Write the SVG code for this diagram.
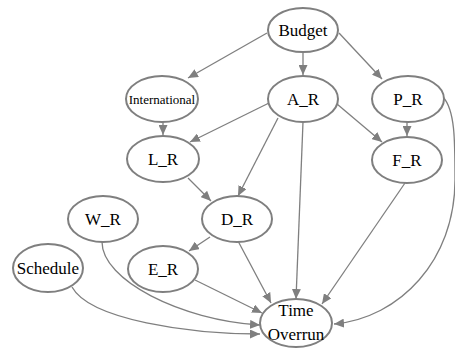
<svg xmlns="http://www.w3.org/2000/svg" width="455" height="349" viewBox="0 0 455 349">
<defs>
<style>
.node ellipse{fill:#fff;stroke:#7f7f7f;stroke-width:2}
.node text{font-family:'Liberation Serif','DejaVu Serif',serif;font-size:17px;fill:#000;text-anchor:middle}
.edges path{fill:none;stroke:#7f7f7f;stroke-width:1.3;marker-end:url(#arr)}
</style>
<marker id="arr" markerUnits="userSpaceOnUse" markerWidth="10" markerHeight="9" refX="10" refY="4.5" orient="auto">
<path d="M0,0 L10,4.5 L0,9 z" fill="#7f7f7f"/>
</marker>
</defs>
<rect width="455" height="349" fill="#fff"/>
<g id="edges" class="edges">
<path d="M267,33 L188,78"/>
<path d="M303,52 L303,75"/>
<path d="M339,33 L382,79"/>
<path d="M163,121 L163,135"/>
<path d="M269,103 L190,142"/>
<path d="M278,118 L238,196"/>
<path d="M303,122 L296,299"/>
<path d="M337,104 L382,142"/>
<path d="M407,122 L407,136"/>
<path d="M443,97 C455,110 455,140 455,180 C455,260 400,318 334,324"/>
<path d="M188,178 L211,201"/>
<path d="M210,237 L189,251"/>
<path d="M238,241 L271,303"/>
<path d="M102,242 C102,280 180,320 260,325"/>
<path d="M195,280 L262,313"/>
<path d="M72,287 C90,320 190,334 260,334"/>
<path d="M405,183 L322,304"/>
</g>
<g id="Budget" class="node"><ellipse cx="303" cy="30" rx="35" ry="22"/><text x="303" y="36" font-family="Liberation Serif, serif">Budget</text></g>
<g id="International" class="node"><ellipse cx="162" cy="99" rx="36" ry="23"/><text x="162" y="104" style="font-size:13px">International</text></g>
<g id="A_R" class="node"><ellipse cx="303" cy="99" rx="35" ry="23"/><text x="303" y="105">A_R</text></g>
<g id="P_R" class="node"><ellipse cx="408" cy="99" rx="36" ry="23"/><text x="408" y="105">P_R</text></g>
<g id="L_R" class="node"><ellipse cx="163" cy="159" rx="36" ry="23"/><text x="163" y="165">L_R</text></g>
<g id="F_R" class="node"><ellipse cx="407" cy="160" rx="35" ry="23"/><text x="407" y="166">F_R</text></g>
<g id="W_R" class="node"><ellipse cx="103" cy="219" rx="35" ry="23"/><text x="103" y="225">W_R</text></g>
<g id="D_R" class="node"><ellipse cx="237" cy="219" rx="35" ry="23"/><text x="237" y="225">D_R</text></g>
<g id="Schedule" class="node"><ellipse cx="48" cy="268" rx="35" ry="24"/><text x="48" y="274">Schedule</text></g>
<g id="E_R" class="node"><ellipse cx="163" cy="269" rx="35" ry="23"/><text x="163" y="275">E_R</text></g>
<g id="Time_Overrun" class="node"><ellipse cx="296" cy="323" rx="36" ry="24"/><text x="296" y="316">Time</text><text x="296" y="340">Overrun</text></g>
</svg>
